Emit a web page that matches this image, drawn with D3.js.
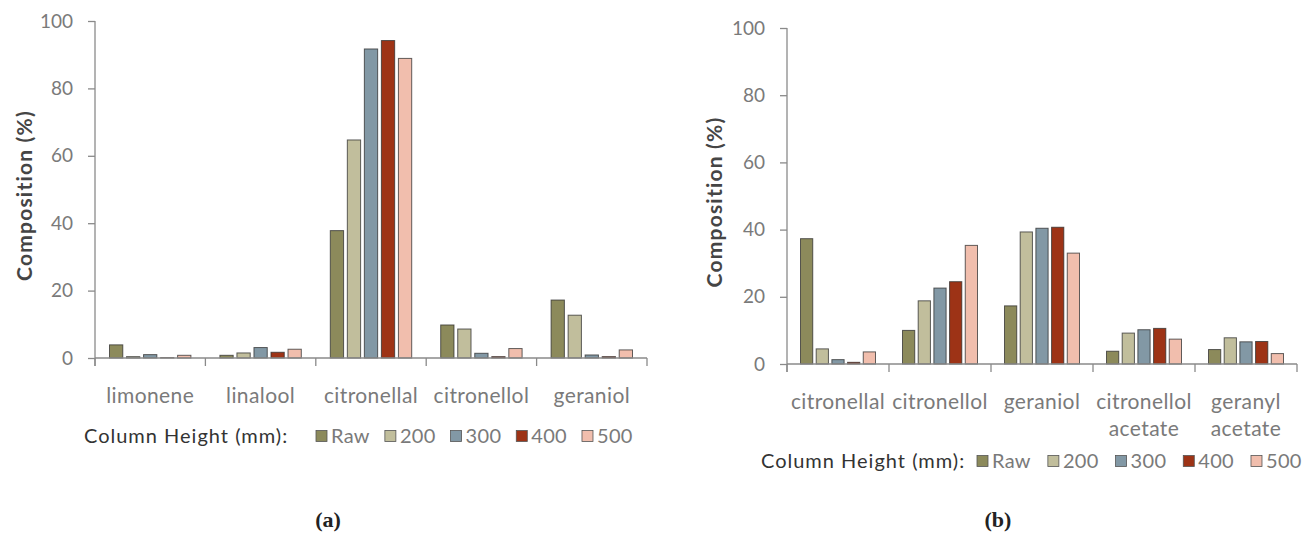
<!DOCTYPE html>
<html>
<head>
<meta charset="utf-8">
<script src="https://d3js.org/d3.v7.min.js"></script>
<style>
  body { margin: 0; background: #fff; }
  svg { display: block; font-family: Lato, "Open Sans", sans-serif; }
</style>
</head>
<body>
<svg id="drawing_region"></svg>
<script>
// series (column height) shared by both panels
const series = ['Raw', '200', '300', '400', '500'];
const colors = ['#8c8a5b', '#c1be9c', '#8298a5', '#9d3316', '#f1bead'];
const yticks = [0, 20, 40, 60, 80, 100];

// panel (a)
const categoriesA = ['limonene', 'linalool', 'citronellal', 'citronellol', 'geraniol'];
const rawA  = [3.9, 0.8, 37.8, 9.8, 17.2];
const h200A = [0.4, 1.5, 64.7, 8.6, 12.7];
const h300A = [1.0, 3.1, 91.7, 1.4, 0.9];
const h400A = [0.1, 1.7, 94.2, 0.4, 0.4];
const h500A = [0.8, 2.6, 88.9, 2.8, 2.4];

// panel (b)
const categoriesB = ['citronellal', 'citronellol', 'geraniol', 'citronellol acetate', 'geranyl acetate'];
const rawB  = [37.3, 10.0, 17.3, 3.8, 4.3];
const h200B = [4.5, 18.8, 39.3, 9.2, 7.8];
const h300B = [1.3, 22.6, 40.4, 10.2, 6.6];
const h400B = [0.5, 24.5, 40.7, 10.6, 6.7];
const h500B = [3.6, 35.3, 33.0, 7.4, 3.1];

const svg = d3.select('#drawing_region')
    .attr('width', 1302)
    .attr('height', 535);

class BarChart {

    constructor( config, categories, values ) {
        this.config = config;
        this.categories = categories;
        this.values = values;
        this.init();
    }

    init() {
        let self = this;
        const c = self.config;

        self.chart = svg.append('g');

        self.xscale = d3.scaleBand()
            .domain( self.categories )
            .range( [c.left, c.right] );

        self.inner = d3.scaleBand()
            .domain( series )
            .range( [c.innerPad, self.xscale.bandwidth() - c.innerPad] )
            .paddingInner( 0.22 );

        self.yscale = d3.scaleLinear()
            .domain( [0, 100] )
            .range( [c.bottom, c.top] );

        self.yaxis = d3.axisLeft( self.yscale )
            .tickValues( yticks )
            .tickSize( 7 )
            .tickPadding( 15 );
    }

    render() {
        let self = this;
        const c = self.config;

        // bars
        const rows = [];
        self.categories.forEach( (cat, i) => {
            series.forEach( (s, j) => rows.push({ cat: cat, s: s, j: j, v: self.values[j][i] }) );
        });

        self.chart.append('g')
            .selectAll('rect')
            .data( rows )
            .join('rect')
            .attr('x', d => self.xscale(d.cat) + self.inner(d.s) )
            .attr('y', d => self.yscale(d.v) )
            .attr('width', self.inner.bandwidth() )
            .attr('height', d => self.yscale(0) - self.yscale(d.v) )
            .attr('fill', d => colors[d.j] )
            .attr('stroke', '#2e2e2e')
            .attr('stroke-opacity', 0.75)
            .attr('stroke-width', 1);

        // y axis
        const yg = self.chart.append('g')
            .attr('transform', `translate(${c.left}, 0)`)
            .call( self.yaxis );
        yg.select('.domain').remove();
        yg.selectAll('line').attr('stroke', '#8a8a8a').attr('stroke-width', 1.3);
        yg.selectAll('text')
            .attr('font-size', 19)
            .attr('fill', '#7a7a7a')
            .attr('font-family', 'Lato');

        // axis lines
        self.chart.append('line')
            .attr('x1', c.left).attr('x2', c.left)
            .attr('y1', c.top).attr('y2', c.bottom + 8)
            .attr('stroke', '#8a8a8a').attr('stroke-width', 1.3);
        self.chart.append('line')
            .attr('x1', c.left).attr('x2', c.right)
            .attr('y1', c.bottom).attr('y2', c.bottom)
            .attr('stroke', '#8a8a8a').attr('stroke-width', 1.3);

        // category boundary ticks
        const bounds = self.categories.map( d => self.xscale(d) ).concat([ c.right ]);
        self.chart.append('g')
            .selectAll('line')
            .data( bounds )
            .join('line')
            .attr('x1', d => d).attr('x2', d => d)
            .attr('y1', c.bottom).attr('y2', c.bottom + 8)
            .attr('stroke', '#8a8a8a').attr('stroke-width', 1.3);

        // category labels
        const labels = self.chart.append('g')
            .selectAll('text')
            .data( self.categories )
            .join('text')
            .attr('x', d => self.xscale(d) + self.xscale.bandwidth() / 2 )
            .attr('y', c.bottom + 45)
            .attr('text-anchor', 'middle')
            .attr('font-size', 21)
            .attr('letter-spacing', 0.4)
            .attr('fill', '#7a7a7a');
        labels.selectAll('tspan')
            .data( d => d.split(' ') )
            .join('tspan')
            .attr('x', function() { return d3.select(this.parentNode).attr('x'); })
            .attr('dy', (d, i) => i === 0 ? 0 : 27)
            .text( d => d );

        // y title
        self.chart.append('text')
            .attr('transform', `translate(${c.titleX}, ${(c.top + c.bottom) / 2 + 6}) rotate(-90)`)
            .attr('text-anchor', 'middle')
            .attr('dy', '0.35em')
            .attr('font-size', 21)
            .attr('letter-spacing', 1.2)
            .attr('font-weight', 'bold')
            .attr('fill', '#454545')
            .text('Composition (%)');

        // legend
        const lg = self.chart.append('g')
            .attr('transform', `translate(0, ${c.legendY})`);
        lg.append('text')
            .attr('x', c.legendX)
            .attr('dy', '0.35em')
            .attr('font-size', 20)
            .attr('letter-spacing', 1.0)
            .attr('fill', '#333')
            .text('Column Height (mm):');
        let x = c.legendStart;
        series.forEach( (s, j) => {
            lg.append('rect')
                .attr('x', x).attr('y', -5.5)
                .attr('width', 11).attr('height', 11)
                .attr('fill', colors[j])
                .attr('stroke', '#555').attr('stroke-width', 0.8);
            const t = lg.append('text')
                .attr('x', x + 15)
                .attr('dy', '0.35em')
                .attr('font-size', 20)
                .attr('letter-spacing', 0.3)
                .attr('fill', '#7a7a7a')
                .text(s);
            x += 15 + t.node().getComputedTextLength() + c.legendGap;
        });

        // panel caption
        self.chart.append('text')
            .attr('x', c.captionX)
            .attr('y', 527)
            .attr('text-anchor', 'middle')
            .attr('font-family', '"Liberation Serif", serif')
            .attr('font-weight', 'bold')
            .attr('font-size', 22)
            .attr('fill', '#222')
            .text(c.caption);
    }
}

const chartA = new BarChart({
    left: 95, right: 647, top: 21, bottom: 358, innerPad: 14.5,
    titleX: 25, legendX: 84, legendY: 436, legendStart: 316, legendGap: 15,
    caption: '(a)', captionX: 328
}, categoriesA, [rawA, h200A, h300A, h400A, h500A]);
chartA.render();

const chartB = new BarChart({
    left: 787, right: 1297, top: 28, bottom: 364, innerPad: 13.5,
    titleX: 715, legendX: 761, legendY: 461, legendStart: 977, legendGap: 17,
    caption: '(b)', captionX: 998
}, categoriesB, [rawB, h200B, h300B, h400B, h500B]);
chartB.render();
</script>
</body>
</html>
